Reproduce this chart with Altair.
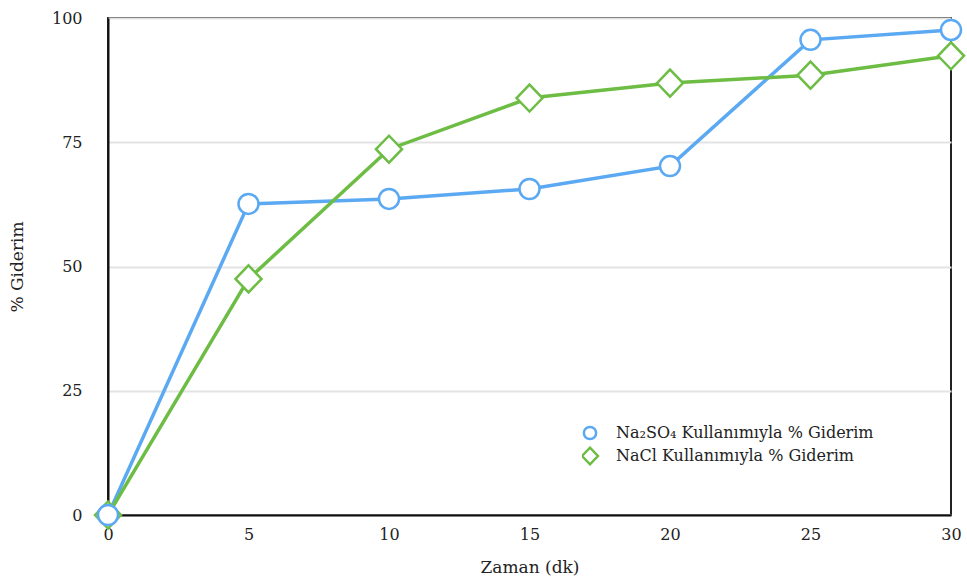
import altair as alt
import pandas as pd

# Removal efficiency over time for two electrolytes
zaman = [0, 5, 10, 15, 20, 25, 30]
na2so4 = [0, 62.6, 63.6, 65.6, 70.2, 95.6, 97.6]
nacl = [0, 47.5, 73.6, 83.9, 86.9, 88.5, 92.4]

seri_na2so4 = "Na₂SO₄ Kullanımıyla % Giderim"
seri_nacl = "NaCl Kullanımıyla % Giderim"
x_ticks = [0, 5, 10, 15, 20, 25, 30]
y_ticks = [0, 25, 50, 75, 100]

df = pd.DataFrame(
    {
        "Zaman": zaman * 2,
        "Giderim": na2so4 + nacl,
        "Seri": [seri_na2so4] * len(zaman) + [seri_nacl] * len(zaman),
        "Sira": [1] * len(zaman) + [0] * len(zaman),
    }
)

FONT = "DejaVu Serif"
domain = [seri_na2so4, seri_nacl]
colors = ["#5aa9f2", "#6dbd45"]
# open circle and a slightly larger open diamond
shapes = ["circle", "M-1.3,0L0,-1.35L1.3,0L0,1.35Z"]

x = alt.X(
    "Zaman:Q",
    scale=alt.Scale(domain=[0, 30], nice=False, zero=False),
    axis=alt.Axis(values=x_ticks, title="Zaman (dk)", grid=False, labelFlush=False),
)
y = alt.Y(
    "Giderim:Q",
    scale=alt.Scale(domain=[0, 100], nice=False),
    axis=alt.Axis(values=y_ticks, title="% Giderim", grid=True, labelFlush=False),
)
legend = alt.Legend(
    title=None,
    orient="none",
    legendX=474,
    legendY=405,
    padding=0,
)
color = alt.Color("Seri:N", scale=alt.Scale(domain=domain, range=colors), legend=legend)
shape = alt.Shape("Seri:N", scale=alt.Scale(domain=domain, range=shapes), legend=legend)

lines = (
    alt.Chart(df)
    .mark_line(strokeWidth=3.5, clip=False)
    .encode(x=x, y=y, color=color, order=alt.Order("Zaman:Q"))
)

points = (
    alt.Chart(df)
    .mark_point(
        filled=False, fill="white", fillOpacity=1, strokeWidth=2.5, opacity=1, size=400, clip=False
    )
    .encode(x=x, y=y, color=color, shape=shape, order=alt.Order("Sira:Q"))
)

chart = (
    alt.layer(lines, points)
    .properties(
        width=843,
        height=497,
        autosize=alt.AutoSizeParams(type="none"),
        padding={"left": 108, "top": 18, "right": 16, "bottom": 66},
    )
    .configure_view(stroke="#222222", strokeWidth=2)
    .configure_axis(
        labelFont=FONT,
        titleFont=FONT,
        labelFontSize=16,
        titleFontSize=17,
        labelColor="#222222",
        titleColor="#222222",
        titleFontWeight="normal",
        domainColor="#111111",
        domainWidth=2,
        ticks=False,
        gridColor="#e3e3e3",
        gridWidth=2,
    )
    .configure_axisY(labelPadding=26, titlePadding=25)
    .configure_axisX(labelPadding=11, titlePadding=17)
    .configure_legend(
        labelFont=FONT,
        labelFontSize=16,
        labelColor="#222222",
        labelLimit=400,
        symbolSize=150,
        symbolStrokeWidth=2.5,
        symbolFillColor="white",
        labelOffset=18,
        clipHeight=20,
        rowPadding=3,
    )
)

chart.save("out.html", embed_options={"renderer": "svg", "actions": False})
